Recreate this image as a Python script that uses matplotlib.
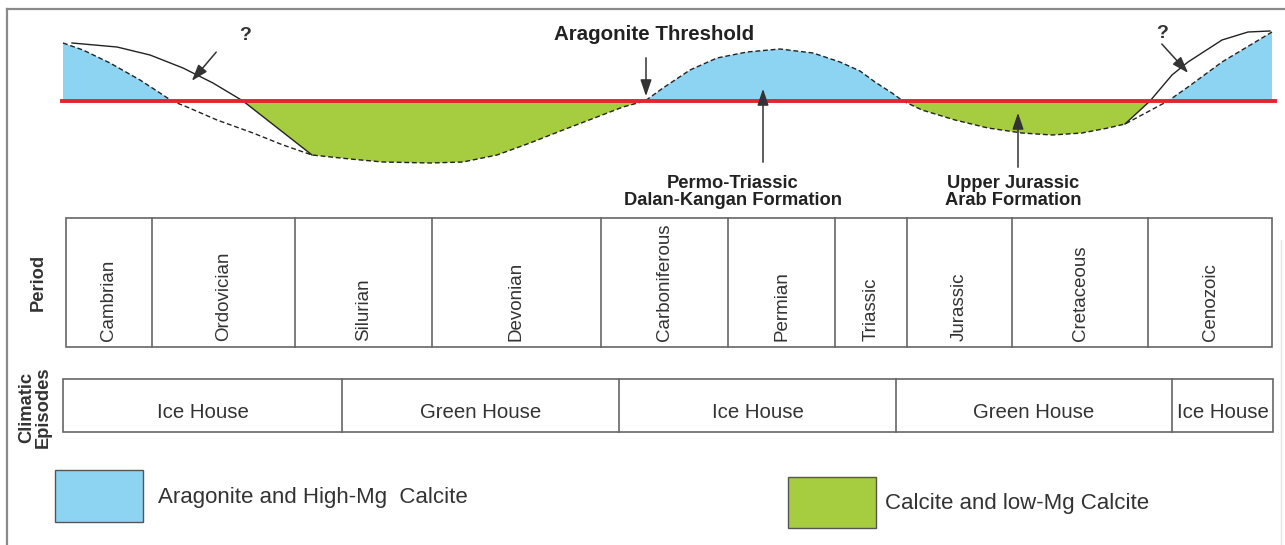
import numpy as np
import matplotlib.pyplot as plt
from matplotlib.patches import Rectangle

plt.rcParams['font.family'] = ['Liberation Sans', 'DejaVu Sans']

# --- data (pixel-like diagram units) ---
periods = ['Cambrian', 'Ordovician', 'Silurian', 'Devonian', 'Carboniferous',
           'Permian', 'Triassic', 'Jurassic', 'Cretaceous', 'Cenozoic']
period_edges = [66, 152, 295, 432, 601, 728, 835, 907, 1012, 1148, 1272]

episodes = ['Ice House', 'Green House', 'Ice House', 'Green House', 'Ice House']
episode_edges = [63, 342, 619, 896, 1172, 1273]

threshold = 101

# dashed curve (mineralogy trend)
curve_x = [63, 83, 110, 140, 160, 172, 187, 217, 253, 283, 312, 350, 383, 430,
           463, 497, 530, 563, 597, 623, 645, 663, 690, 717, 747, 780, 813,
           840, 860, 875, 892, 903, 922, 955, 988, 1022, 1052, 1082, 1108,
           1125, 1168, 1188, 1222, 1272]
curve_y = [43, 50, 63, 80, 93, 101, 107, 120, 133, 145, 155, 159, 162, 163,
           162, 155, 143, 130, 117, 107, 101, 88, 70, 58, 52, 49, 53,
           62, 71, 82, 93, 101, 110, 120, 128, 133, 135, 133, 128,
           124, 101, 87, 62, 32]

# solid alternative curves ("?")
left_x = [72, 117, 150, 183, 213, 243, 312]
left_y = [43, 47, 55, 68, 83, 101, 155]
right_x = [1125, 1150, 1172, 1188, 1222, 1248, 1270]
right_y = [124, 101, 75, 62, 40, 32, 31]

blue = '#8dd4f2'
green = '#a6cc3f'
red = '#e3262b'
line_c = '#666666'
txt_c = '#333333'

fig = plt.figure(figsize=(12.85, 5.45), dpi=100)
ax = fig.add_axes([0, 0, 1, 1])
ax.set_xlim(0, 1285)
ax.set_ylim(545, 0)
ax.axis('off')

# frame
ax.plot([7, 1285], [9, 9], color='#8a8a8a', lw=1.6)
ax.plot([7, 7], [9, 545], color='#8a8a8a', lw=1.6)
ax.plot([1281, 1281], [240, 545], color='#e4e4e4', lw=1)

cx = np.array(curve_x, dtype=float)
cy = np.array(curve_y, dtype=float)
lx = np.array(left_x, dtype=float)
ly = np.array(left_y, dtype=float)
rx = np.array(right_x, dtype=float)
ry = np.array(right_y, dtype=float)

# blue, left
m = cx <= 172
ax.fill(np.r_[cx[m], cx[m][0]], np.r_[cy[m], threshold], color=blue, lw=0)
# green, Palaeozoic
m = (cx >= 312) & (cx <= 645)
gx = np.r_[lx[lx >= 243], cx[m]]
gy = np.r_[ly[lx >= 243], cy[m]]
ax.fill(gx, gy, color=green, lw=0)
# blue, Permo-Triassic
m = (cx >= 645) & (cx <= 903)
ax.fill(cx[m], cy[m], color=blue, lw=0)
# green, Jurassic
m = (cx >= 903) & (cx <= 1125)
ax.fill(np.r_[cx[m], rx[rx <= 1150]], np.r_[cy[m], ry[rx <= 1150]], color=green, lw=0)
# blue, right
m = cx >= 1168
ax.fill(np.r_[cx[m], cx[m][-1]], np.r_[cy[m], threshold], color=blue, lw=0)

ax.plot(cx, cy, color='#222222', lw=1, ls=(0, (3.5, 2)))
ax.plot(lx, ly, color='#222222', lw=1)
ax.plot(rx, ry, color='#222222', lw=1)
ax.plot([62, 1275], [threshold, threshold], color=red, lw=2.8)

# arrows and labels on the curve
arr = dict(arrowstyle='-|>,head_length=0.5,head_width=0.17', color='#333333',
           lw=1.1, mutation_scale=20)
ax.annotate('', xy=(190, 83), xytext=(218, 50), arrowprops=arr)
ax.annotate('', xy=(1190, 75), xytext=(1160, 42), arrowprops=arr)
ax.annotate('', xy=(646, 99), xytext=(646, 55), arrowprops=arr)
ax.annotate('', xy=(763, 86), xytext=(763, 165), arrowprops=arr)
ax.annotate('', xy=(1018, 110), xytext=(1018, 170), arrowprops=arr)

ax.text(245, 35, '?', ha='center', va='center', fontsize=14, fontweight='bold', color=txt_c)
ax.text(1162, 33, '?', ha='center', va='center', fontsize=14, fontweight='bold', color=txt_c)
ax.text(654, 35, 'Aragonite Threshold', ha='center', va='center', fontsize=14.8,
        fontweight='bold', color='#222222')
ax.text(733, 192, 'Permo-Triassic\nDalan-Kangan Formation', ha='center', va='center',
        fontsize=13.2, fontweight='bold', color='#222222', linespacing=1.05)
ax.text(1013, 192, 'Upper Jurassic\nArab Formation', ha='center', va='center',
        fontsize=13.2, fontweight='bold', color='#222222', linespacing=1.05)

# period table
p_top, p_bot = 218, 347
ax.add_patch(Rectangle((period_edges[0], p_top), period_edges[-1] - period_edges[0],
                       p_bot - p_top, fill=False, ec=line_c, lw=1.2))
for e in period_edges[1:-1]:
    ax.plot([e, e], [p_top, p_bot], color=line_c, lw=1.2)
for i, name in enumerate(periods):
    xc = (period_edges[i] + period_edges[i + 1]) / 2
    ax.text(xc, p_bot - 6, name, rotation=90, ha='center', va='bottom',
            fontsize=13.5, color=txt_c)
ax.text(38, (p_top + p_bot) / 2, 'Period', rotation=90, ha='center', va='center',
        fontsize=13.2, fontweight='bold', color=txt_c)

# climatic episodes
e_top, e_bot = 379, 432
ax.add_patch(Rectangle((episode_edges[0], e_top), episode_edges[-1] - episode_edges[0],
                       e_bot - e_top, fill=False, ec=line_c, lw=1.2))
for e in episode_edges[1:-1]:
    ax.plot([e, e], [e_top, e_bot], color=line_c, lw=1.2)
for i, name in enumerate(episodes):
    xc = (episode_edges[i] + episode_edges[i + 1]) / 2
    ax.text(xc, 413, name, ha='center', va='center', fontsize=14.7, color=txt_c)
ax.text(35, 407, 'Climatic\nEpisodes', rotation=90, ha='center', va='center',
        fontsize=13.2, fontweight='bold', color=txt_c, linespacing=1.0)

# legend
ax.add_patch(Rectangle((55, 470), 88, 52, fc=blue, ec='#555555', lw=1))
ax.text(158, 497, 'Aragonite and High-Mg  Calcite', ha='left', va='center',
        fontsize=16, color=txt_c)
ax.add_patch(Rectangle((788, 477), 88, 51, fc=green, ec='#555555', lw=1))
ax.text(885, 504, 'Calcite and low-Mg Calcite', ha='left', va='center',
        fontsize=16, color=txt_c)

fig.savefig('out.png', dpi=100)
